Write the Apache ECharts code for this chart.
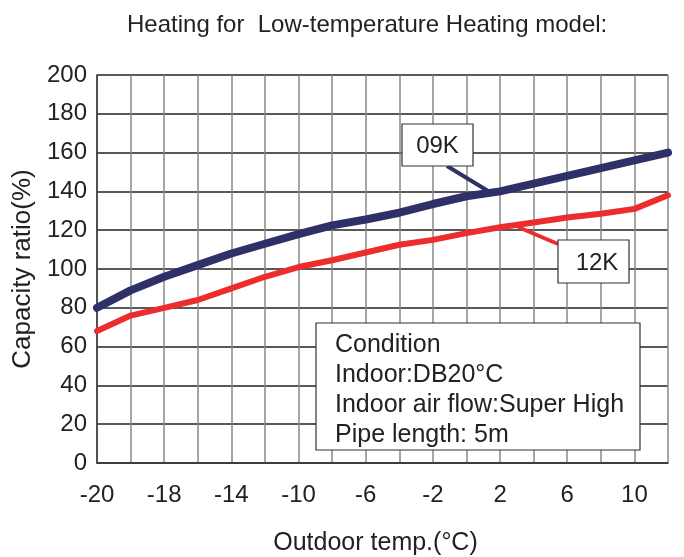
<!DOCTYPE html>
<html>
<head>
<meta charset="utf-8">
<script src="https://cdn.jsdelivr.net/npm/echarts@6/dist/echarts.min.js"></script>
<style>html,body{margin:0;padding:0;background:#fff;}#c{width:684px;height:557px;}</style>
</head>
<body>
<div id="c"></div>
<script>
// Grid positions along the outdoor-temperature axis (18 vertical grid lines)
const gridPositions = ['p0','p1','p2','p3','p4','p5','p6','p7','p8','p9','p10','p11','p12','p13','p14','p15','p16','p17'];
// Tick labels shown under every second grid line
const xTickLabels = ['-20','-18','-14','-10','-6','-2','2','6','10'];
// Capacity ratio (%) read at each grid line
const cap09K = [80, 89, 96, 102, 108, 113, 118, 122.5, 125.5, 129, 133.5, 137.5, 140, 144, 148, 152, 156, 160];
const cap12K = [68, 76, 80, 84, 90, 96, 101, 104.5, 108.5, 112.5, 115, 118.5, 121.5, 124, 126.5, 128.5, 131, 138];
const conditionLines = ['Condition', 'Indoor:DB20°C', 'Indoor air flow:Super High', 'Pipe length: 5m'];

const FONT = 'Liberation Sans, Arial, Helvetica, sans-serif';
const chart = echarts.init(document.getElementById('c'), null, {renderer: 'canvas'});

const graphics = [
  // 09K label + leader
  {type: 'line', shape: {x1: 447, y1: 166, x2: 488, y2: 191}, style: {stroke: '#2f3068', lineWidth: 4}, z: 5},
  {type: 'rect', shape: {x: 402, y: 124, width: 71, height: 42}, style: {fill: '#fff', stroke: '#333', lineWidth: 1.2}, z: 6},
  {type: 'text', x: 437.5, y: 146, style: {text: '09K', font: '24px ' + FONT, fill: '#222', align: 'center', verticalAlign: 'middle'}, z: 7},
  // 12K label + leader
  {type: 'line', shape: {x1: 518, y1: 227, x2: 558, y2: 244}, style: {stroke: '#ed2d2d', lineWidth: 4}, z: 5},
  {type: 'rect', shape: {x: 558, y: 240, width: 71, height: 43}, style: {fill: '#fff', stroke: '#333', lineWidth: 1.2}, z: 6},
  {type: 'text', x: 597, y: 263, style: {text: '12K', font: '24px ' + FONT, fill: '#222', align: 'center', verticalAlign: 'middle'}, z: 7},
  // Condition box
  {type: 'rect', shape: {x: 316, y: 323, width: 324, height: 127}, style: {fill: '#fff', stroke: '#333', lineWidth: 1.2}, z: 6}
];
conditionLines.forEach((t, i) => {
  graphics.push({type: 'text', x: 335, y: 345 + i * 30, style: {text: t, font: '25px ' + FONT, fill: '#222', align: 'left', verticalAlign: 'middle'}, z: 7});
});

chart.setOption({
  animation: false,
  backgroundColor: '#fff',
  title: {
    text: 'Heating for  Low-temperature Heating model:',
    left: 122, top: 8,
    textStyle: {fontFamily: FONT, fontSize: 24, fontWeight: 'normal', color: '#222'}
  },
  grid: {left: 97, right: 16, top: 75, bottom: 94, containLabel: false, outerBoundsMode: 'none'},
  xAxis: {
    type: 'category',
    data: gridPositions,
    boundaryGap: false,
    name: 'Outdoor temp.(°C)',
    nameLocation: 'middle',
    nameGap: 68,
    nameTextStyle: {fontFamily: FONT, fontSize: 25, color: '#222', padding: [0, 14, 0, 0]},
    axisLine: {show: true, lineStyle: {color: '#333', width: 1.5}},
    axisTick: {show: false, interval: 0},
    axisLabel: {
      interval: 1, margin: 20,
      fontFamily: FONT, fontSize: 24, color: '#222',
      formatter: (v, i) => xTickLabels[i / 2]
    },
    splitLine: {show: true, interval: 0, lineStyle: {color: '#888', width: 1.5}}
  },
  yAxis: {
    type: 'value',
    min: 0, max: 200, interval: 20,
    name: 'Capacity ratio(%)',
    nameLocation: 'middle',
    nameRotate: 90,
    nameGap: 59,
    nameTextStyle: {fontFamily: FONT, fontSize: 26, color: '#222'},
    axisLine: {show: true, lineStyle: {color: '#333', width: 1.5}},
    axisTick: {show: false},
    axisLabel: {fontFamily: FONT, fontSize: 24, color: '#222', margin: 10},
    splitLine: {show: true, lineStyle: {color: '#222', width: 1.6}}
  },
  series: [
    {name: '09K', type: 'line', data: cap09K, symbol: 'none', lineStyle: {color: '#2f3068', width: 8, cap: 'round', join: 'round'}, z: 3},
    {name: '12K', type: 'line', data: cap12K, symbol: 'none', lineStyle: {color: '#ed2d2d', width: 6, cap: 'round', join: 'round'}, z: 3}
  ],
  graphic: graphics
});
</script>
</body>
</html>
